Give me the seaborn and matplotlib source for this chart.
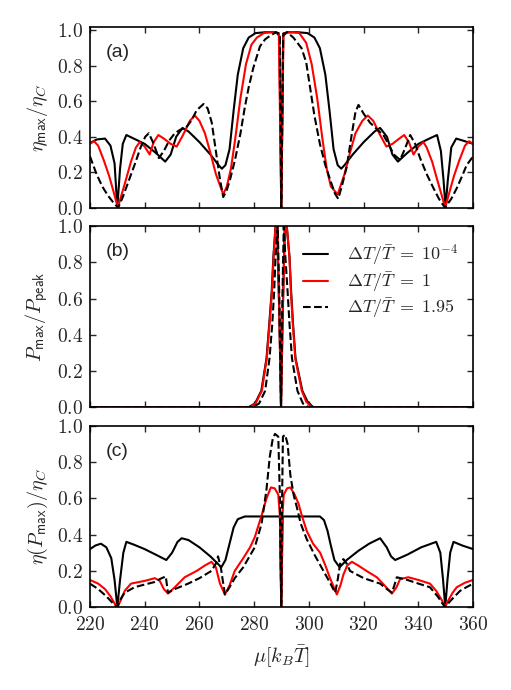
import numpy as np
import pandas as pd
import matplotlib
matplotlib.use("Agg")
import matplotlib.pyplot as plt
from matplotlib.ticker import FuncFormatter
import seaborn as sns

# ---------------- data ----------------
# panel (a): eta_max / eta_C
a_blk_x = [220, 222.5, 225.5, 227.5, 229, 230, 231, 232, 233.3, 236, 240, 244, 247.5, 249.5, 251.5, 253.8,
           256, 260, 264, 267, 268.2, 269.5, 271, 272.5, 274, 276, 278, 280.5, 284, 288, 289.2, 289.9,
           290.6, 292, 296, 299.5, 302, 304, 306, 307.5, 309, 310.5, 311.8, 313, 316, 320, 324, 326,
           328.5, 330.5, 332.5, 336, 340, 344, 346.8, 348.2, 349.2, 349.9, 350.7, 352, 353.8, 357, 360]
a_blk_y = [0.365, 0.385, 0.39, 0.35, 0.25, 0.0, 0.22, 0.36, 0.41, 0.39, 0.36, 0.31, 0.26, 0.30, 0.40, 0.45,
           0.43, 0.37, 0.30, 0.24, 0.22, 0.24, 0.33, 0.55, 0.75, 0.90, 0.96, 0.985, 0.99, 0.99, 0.97, 0.0,
           0.97, 0.99, 0.99, 0.985, 0.96, 0.90, 0.75, 0.55, 0.33, 0.24, 0.22, 0.24, 0.30, 0.37, 0.43, 0.45,
           0.40, 0.30, 0.26, 0.31, 0.36, 0.39, 0.41, 0.32, 0.15, 0.0, 0.15, 0.34, 0.39, 0.375, 0.36]

a_red_x = [220, 221.5, 223, 225, 227, 229, 230.2, 231.5, 233, 235, 236.8, 238.2, 240, 241.8, 243.3, 245,
           247, 249.5, 251.7, 254, 256.5, 258.3, 260, 262, 264, 266, 268.7, 270, 271.5, 273, 275, 277,
           279, 281, 283.5, 286, 289, 289.9, 290.7, 294, 296.5, 299, 301, 303, 305, 306.5, 308, 310.5,
           313, 315, 317, 319.5, 321.5, 323.5, 326, 328.3, 330.5, 333, 334.8, 336.5, 338.2, 340, 341.8,
           343, 345, 347, 348.5, 349.8, 351, 353, 355, 357, 358.5, 360]
a_red_y = [0.36, 0.375, 0.35, 0.27, 0.18, 0.07, 0.0, 0.07, 0.15, 0.26, 0.34, 0.37, 0.345, 0.30, 0.37, 0.41,
           0.39, 0.36, 0.345, 0.41, 0.49, 0.52, 0.49, 0.42, 0.31, 0.19, 0.075, 0.12, 0.22, 0.38, 0.62, 0.81,
           0.92, 0.96, 0.985, 0.99, 0.985, 0.0, 0.985, 0.99, 0.985, 0.93, 0.81, 0.62, 0.38, 0.22, 0.12, 0.075,
           0.19, 0.31, 0.42, 0.49, 0.52, 0.49, 0.41, 0.345, 0.36, 0.39, 0.41, 0.37, 0.30, 0.345, 0.37,
           0.34, 0.26, 0.15, 0.07, 0.0, 0.07, 0.18, 0.27, 0.35, 0.375, 0.36]

a_dsh_x = [220, 222.4, 224.5, 226.5, 228.5, 230.3, 232, 234.6, 236.5, 238.5, 240.2, 241.5, 243, 245.2,
           247, 249, 251, 253, 255, 257, 259, 261.5, 263, 264.5, 266, 267.5, 268.7, 270, 271.2, 273, 275,
           276.5, 278, 279.7, 282.1, 284, 285.8, 288, 289.4, 289.9, 290.6, 292, 294.3, 297.3, 299, 300.4,
           302, 304, 306, 307.7, 309.5, 310.7, 312, 313.8, 315.5, 317, 318.1, 320, 322.3, 325, 327.2, 329,
           331, 333.3, 335, 337, 338.8, 340.6, 343, 345.5, 347.5, 349.7, 352, 354, 356, 357.6, 360]
a_dsh_y = [0.29, 0.19, 0.12, 0.07, 0.03, 0.0, 0.06, 0.17, 0.25, 0.34, 0.40, 0.42, 0.37, 0.28,
           0.32, 0.38, 0.42, 0.44, 0.45, 0.49, 0.55, 0.585, 0.56, 0.48, 0.32, 0.16, 0.06, 0.10, 0.16, 0.27, 0.42,
           0.56, 0.68, 0.79, 0.91, 0.95, 0.97, 0.99, 0.98, 0.0, 0.98, 0.99, 0.96, 0.90, 0.82, 0.68,
           0.52, 0.36, 0.24, 0.16, 0.08, 0.05, 0.12, 0.23, 0.40, 0.54, 0.58, 0.53, 0.48, 0.44, 0.41, 0.36,
           0.30, 0.27, 0.33, 0.41, 0.36, 0.28, 0.19, 0.11, 0.05, 0.0, 0.05, 0.11, 0.18, 0.24, 0.29]

# panel (b): P_max / P_peak
b_blk_x = [220, 278, 280.3, 282.6, 284.5, 285.5, 286.4, 287.0, 287.8, 288.4, 289.2, 289.8, 290.4, 291.2,
           291.9, 292.9, 293.5, 294.2, 295.1, 297.6, 299.5, 301.5, 360]
b_blk_y = [0.0, 0.0, 0.02, 0.09, 0.27, 0.46, 0.64, 0.83, 1.0, 1.0, 0.5, 0.0, 0.5, 1.0,
           1.0, 0.83, 0.64, 0.46, 0.27, 0.09, 0.03, 0.0, 0.0]
b_red_x = [220, 278.5, 280.5, 282.8, 284.6, 285.6, 286.5, 287.1, 287.8, 288.4, 289.2, 289.8, 290.4, 291.2,
           291.9, 292.9, 293.4, 294.1, 295.0, 297.4, 299.0, 301.0, 360]
b_red_y = [0.0, 0.0, 0.02, 0.09, 0.27, 0.46, 0.64, 0.83, 1.0, 1.0, 0.5, 0.0, 0.5, 1.0,
           1.0, 0.83, 0.64, 0.46, 0.27, 0.09, 0.03, 0.0, 0.0]
b_dsh_x = [220, 279.5, 281.8, 284.0, 285.6, 286.6, 287.3, 287.8, 288.6, 289.2, 289.8, 290.3, 290.8,
           291.4, 292.2, 292.9, 293.8, 295.8, 297.8, 299.8, 360]
b_dsh_y = [0.0, 0.0, 0.02, 0.09, 0.27, 0.46, 0.64, 0.83, 1.0, 0.6, 0.0, 0.6, 1.0,
           0.83, 0.64, 0.46, 0.27, 0.09, 0.02, 0.0, 0.0]

# panel (c): eta(P_max) / eta_C
c_blk_x = [220, 222, 224, 226, 227.8, 229, 230, 231, 232.2, 233.3, 236, 240, 244, 247.9, 250, 252, 253.5,
           256, 260, 264, 268, 269.5, 271, 272.5, 274, 276.6, 289.4, 289.9, 290.4, 304, 305.5, 306.8, 308,
           309.3, 311.2, 313.8, 318, 322, 326, 328.4, 330, 331.5, 336, 341, 346.5, 348, 349, 349.8, 350.6,
           351.6, 352.8, 356, 360]
c_blk_y = [0.32, 0.34, 0.35, 0.33, 0.27, 0.15, 0.0, 0.15, 0.30, 0.36, 0.345, 0.32, 0.29, 0.26, 0.30, 0.36, 0.38,
           0.37, 0.33, 0.28, 0.22, 0.26, 0.35, 0.44, 0.485, 0.50, 0.50, 0.0, 0.50, 0.50, 0.48, 0.42, 0.34,
           0.26, 0.22, 0.26, 0.31, 0.35, 0.38, 0.33, 0.28, 0.26, 0.29, 0.33, 0.36, 0.30, 0.15, 0.0, 0.15,
           0.30, 0.36, 0.34, 0.32]
c_red_x = [220, 221.5, 223, 225.5, 227.5, 229, 230, 231, 232.7, 235, 240, 243.7, 245.5, 247, 248.5, 251,
           254.6, 259, 262, 264.4, 266, 267.5, 269.3, 271, 272.9, 276, 278.5, 280.2, 282.7, 284.5, 286.1,
           287.5, 288.8, 289.4, 289.9, 290.3, 290.8, 292, 293.2, 294.8, 296.2, 297.5, 299.2, 301.5, 304.1,
           306, 307.7, 310.2, 311.5, 312.6, 314, 315.7, 318, 321, 324.8, 327, 328.8, 330.3, 332, 333.3,
           336.3, 340, 344.2, 346.5, 348.5, 349.7, 351, 352.5, 354, 357, 360]
c_red_y = [0.15, 0.14, 0.13, 0.10, 0.06, 0.02, 0.0, 0.03, 0.09, 0.13, 0.145, 0.16, 0.145, 0.10, 0.075, 0.11,
           0.165, 0.20, 0.23, 0.25, 0.22, 0.13, 0.07, 0.12, 0.20, 0.27, 0.33, 0.385, 0.505, 0.60, 0.66,
           0.655, 0.62, 0.50, 0.0, 0.50, 0.62, 0.655, 0.66, 0.62, 0.57, 0.50, 0.42, 0.35, 0.30,
           0.23, 0.16, 0.07, 0.12, 0.18, 0.23, 0.25, 0.23, 0.20, 0.165, 0.13, 0.10, 0.075, 0.11, 0.155,
           0.165, 0.15, 0.13, 0.09, 0.04, 0.0, 0.04, 0.08, 0.11, 0.135, 0.15]
c_dsh_x = [220, 223, 226, 228.5, 230, 231, 232.7, 236.3, 240, 244, 245.5, 247, 247.7, 248.5, 251, 255.9,
           260, 264.4, 266, 266.8, 267.8, 269.3, 271, 272.9, 276, 280.2, 282.7, 284.5, 285.7, 286.8, 287.6,
           288.8, 289.4, 289.9, 290.2, 290.5, 291.3, 292.2, 293.2, 294.4, 295.6, 297, 299.2, 302, 305.3,
           307.5, 309.6, 310.6, 311.4, 312.6, 313.8, 315, 320, 326, 328.5, 330.3, 331.2, 332.1, 336, 340,
           344.2, 347, 349.7, 352, 355.2, 357.5, 360]
c_dsh_y = [0.13, 0.10, 0.06, 0.02, 0.0, 0.04, 0.08, 0.11, 0.125, 0.14, 0.155, 0.165, 0.17, 0.08, 0.10, 0.13,
           0.16, 0.20, 0.24, 0.28, 0.22, 0.07, 0.11, 0.16, 0.22, 0.33, 0.46, 0.65, 0.83, 0.93, 0.955,
           0.94, 0.60, 0.0, 0.60, 0.94, 0.95, 0.90, 0.73, 0.62, 0.55, 0.46, 0.375, 0.29, 0.20,
           0.14, 0.08, 0.16, 0.24, 0.265, 0.24, 0.20, 0.16, 0.13, 0.10, 0.08, 0.12, 0.165, 0.15, 0.13,
           0.11, 0.06, 0.0, 0.04, 0.09, 0.11, 0.13]

series_labels = [r"$\Delta T/\bar{T}\;=\;10^{-4}$", r"$\Delta T/\bar{T}\;=\;1$",
                 r"$\Delta T/\bar{T}\;=\;1.95$"]
panel_tags = ["(a)", "(b)", "(c)"]
ylabels = [r"$\eta_{\mathsf{max}}/\eta_C$", r"$P_{\mathsf{max}}/P_{\mathsf{peak}}$",
           r"$\eta(P_{\mathsf{max}})/\eta_C$"]
xlabel = r"$\mu[k_B\bar{T}]$"
xticks = [220, 240, 260, 280, 300, 320, 340, 360]
yticks = [0.0, 0.2, 0.4, 0.6, 0.8, 1.0]

# ---------------- style ----------------
sns.set_style("ticks")
plt.rcParams.update({
    "mathtext.fontset": "cm",
    "axes.linewidth": 1.2,
    "xtick.direction": "in", "ytick.direction": "in",
    "xtick.top": True, "ytick.right": True,
    "xtick.major.size": 4.5, "ytick.major.size": 4.5,
    "xtick.major.width": 1.0, "ytick.major.width": 1.0,
    "axes.edgecolor": "black",
})
plt.rcParams["font.family"] = ["Liberation Sans", "DejaVu Sans"]

fig = plt.figure(figsize=(5.11, 6.90), dpi=100)
L, R = 0.176, 0.926
boxes = [(0.699, 0.961), (0.410, 0.672), (0.120, 0.383)]
axes = [fig.add_axes([L, b, R - L, t - b]) for b, t in boxes]

panels = [
    [(a_blk_x, a_blk_y), (a_red_x, a_red_y), (a_dsh_x, a_dsh_y)],
    [(b_blk_x, b_blk_y), (b_red_x, b_red_y), (b_dsh_x, b_dsh_y)],
    [(c_blk_x, c_blk_y), (c_red_x, c_red_y), (c_dsh_x, c_dsh_y)],
]
colors = ["black", "red", "black"]
ylims = [(0, 1.02), (0, 1.0), (0, 1.0)]

for i, ax in enumerate(axes):
    for j, (xs, ys) in enumerate(panels[i]):
        df = pd.DataFrame({"x": xs, "y": ys})
        kw = dict(color=colors[j], linewidth=1.5)
        if j == 2:
            kw["dashes"] = (2.4, 1.5)
            kw["linestyle"] = "--"
        sns.lineplot(data=df, x="x", y="y", ax=ax, estimator=None, sort=False,
                     label=series_labels[j], legend=False, **kw)
    ax.set_xlim(220, 360)
    ax.set_ylim(*ylims[i])
    ax.set_yticks(yticks)
    ax.set_xticks(xticks)
    ax.yaxis.set_major_formatter(FuncFormatter(lambda v, p: r"$%.1f$" % v))
    ax.tick_params(axis="y", labelsize=14, pad=5)
    ax.tick_params(axis="x", labelsize=14, pad=6.5)
    ax.set_ylabel(ylabels[i], fontsize=14.5, labelpad=5)
    ax.set_xlabel("")
    ax.text(0.04, 0.86, panel_tags[i], transform=ax.transAxes, fontsize=14,
            ha="left", va="center")
    if i < 2:
        ax.tick_params(labelbottom=False)
    else:
        ax.xaxis.set_major_formatter(FuncFormatter(lambda v, p: r"$%d$" % v))
        ax.set_xlabel(xlabel, fontsize=14.5, labelpad=6)
    for s in ax.spines.values():
        s.set_visible(True)
        s.set_linewidth(1.2)
        s.set_color("black")

# legend in panel (b)
axes[1].legend(loc="upper left", bbox_to_anchor=(0.555, 0.91), frameon=False,
               fontsize=13, handlelength=1.4, handletextpad=1.05, labelspacing=0.12,
               borderaxespad=0, borderpad=0)

fig.savefig("out.png", dpi=100)
